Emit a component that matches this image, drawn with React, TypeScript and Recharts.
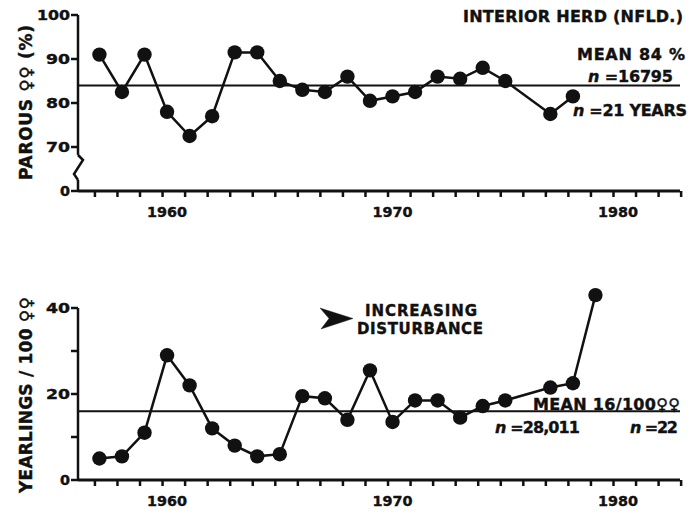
import { LineChart, Line, XAxis, YAxis, ReferenceLine, ReferenceDot } from "recharts";

const FONT = '"DejaVu Sans", "Liberation Sans", sans-serif';
const INK = "#111111";

// Top panel: parous females (%) — no sample in 1976
const parousYears = [
  1957, 1958, 1959, 1960, 1961, 1962, 1963, 1964, 1965, 1966, 1967,
  1968, 1969, 1970, 1971, 1972, 1973, 1974, 1975, 1977, 1978,
];
const parousPct = [
  91, 82.5, 91, 78, 72.5, 77, 91.5, 91.5, 85, 83, 82.5,
  86, 80.5, 81.5, 82.5, 86, 85.5, 88, 85, 77.5, 81.5,
];
const PAROUS_MEAN = 84;

// Bottom panel: yearlings per 100 females
const yearlingYears = [
  1957, 1958, 1959, 1960, 1961, 1962, 1963, 1964, 1965, 1966, 1967,
  1968, 1969, 1970, 1971, 1972, 1973, 1974, 1975, 1977, 1978, 1979,
];
const yearlingsPer100 = [
  5, 5.5, 11, 29, 22, 12, 8, 5.5, 6, 19.5, 19,
  14, 25.5, 13.5, 18.5, 18.5, 14.5, 17.2, 18.5, 21.5, 22.5, 43,
];
const YEARLING_MEAN = 16;

const yearTicks = [
  1957, 1958, 1959, 1960, 1961, 1962, 1963, 1964, 1965, 1966, 1967, 1968, 1969,
  1970, 1971, 1972, 1973, 1974, 1975, 1976, 1977, 1978, 1979, 1980, 1981, 1982, 1983,
];
const labelledYears = [1960, 1970, 1980];
const X_DOMAIN: [number, number] = [1956.05, 1982.75];

// the top axis is broken: 60 sits at the bottom and is labelled "0"
const parousTicks = [60, 70, 80, 90, 100];
const parousTickLabels: Record<number, string> = { 60: "0", 70: "70", 80: "80", 90: "90", 100: "100" };
const PAROUS_BREAK = { top: 68.2, mid: 65, bottom: 62.5 };

const yearlingTicks = [0, 10, 20, 30, 40];
const yearlingTickLabels: Record<number, string> = { 0: "0", 20: "20", 40: "40" };

const parousData = parousYears.map((year, i) => ({ year, pct: parousPct[i] }));
const yearlingData = yearlingYears.map((year, i) => ({ year, ratio: yearlingsPer100[i] }));

const textStyle = { fontFamily: FONT, fontWeight: 700, fill: INK, stroke: INK, strokeWidth: 0.4 } as const;

function YearLabel({ x, y, payload }: any) {
  const yr = payload.value;
  if (!labelledYears.includes(yr)) return <g />;
  return (
    <text
      x={x}
      y={y + 18}
      textAnchor="middle"
      fontSize={14}
      textLength={40}
      lengthAdjust="spacingAndGlyphs"
      {...textStyle}
    >
      {yr}
    </text>
  );
}

function makeValueLabel(labels: Record<number, string>) {
  return function ValueLabel({ x, y, payload }: any) {
    const lab = labels[payload.value];
    if (!lab) return <g />;
    const len = lab.length === 1 ? 10 : lab.length === 2 ? 24 : 33;
    return (
      <text
        x={x}
        y={y}
        dy={5}
        textAnchor="end"
        fontSize={14}
        textLength={len}
        lengthAdjust="spacingAndGlyphs"
        {...textStyle}
      >
        {lab}
      </text>
    );
  };
}

// short tick marks hung off reference lines; the printed x marks sit a little left of the years
function XTickMark({ x1, y1, y2 }: any) {
  const base = Math.max(y1, y2);
  return <line x1={x1 - 4.5} x2={x1 - 4.5} y1={base} y2={base + 6} stroke={INK} strokeWidth={2.5} />;
}

function YTickMark({ x1, x2, y1 }: any) {
  const left = Math.min(x1, x2);
  return <line x1={left - 7} x2={left} y1={y1} y2={y1} stroke={INK} strokeWidth={2.5} />;
}

function AxisBreak({ cx, cy }: any) {
  return (
    <path
      d={`M${cx},${cy - 14} L${cx + 5},${cy - 9} L${cx - 4},${cy + 5} L${cx},${cy + 11}`}
      fill="none"
      stroke={INK}
      strokeWidth={2.5}
    />
  );
}

const dotStyle = { r: 7.2, fill: INK, stroke: INK, strokeWidth: 0 };

export default function App() {
  return (
    <div style={{ position: "absolute", left: 0, top: 0, width: 699, height: 514, background: "#fff" }}>
      {/* titles and annotations, underneath the charts */}
      <svg width={699} height={514} style={{ position: "absolute", left: 0, top: 0 }}>
        <g {...textStyle} fontSize={16}>
          <text x={32} y={102.5} textAnchor="middle" transform="rotate(-90 32 102.5)" fontSize={17} textLength={155}>
            PAROUS ♀♀ (%)
          </text>
          <text x={32} y={395} textAnchor="middle" transform="rotate(-90 32 395)" fontSize={17} textLength={196}>
            YEARLINGS / 100 ♀♀
          </text>

          <text x={463} y={22} textLength={220}>INTERIOR HERD (NFLD.)</text>
          <text x={577} y={60} textLength={108}>MEAN 84 %</text>
          <text x={588} y={82} textLength={85}>
            <tspan fontStyle="italic">n</tspan> =16795
          </text>
          <text x={573} y={116} textLength={114}>
            <tspan fontStyle="italic">n</tspan> =21 YEARS
          </text>

          <path d="M320,308 L353,318.5 L321,329 L329,318.5 Z" fill={INK} />
          <text x={365} y={316} fontSize={15} textLength={112}>INCREASING</text>
          <text x={357} y={334} fontSize={15} textLength={126}>DISTURBANCE</text>

          <text x={533} y={410} textLength={147}>MEAN 16/100♀♀</text>
          <text x={495} y={433} textLength={85}>
            <tspan fontStyle="italic">n</tspan> =28,011
          </text>
          <text x={630} y={433} textLength={48}>
            <tspan fontStyle="italic">n</tspan> =22
          </text>
        </g>
      </svg>

      <LineChart width={699} height={240} data={parousData} margin={{ top: 15, right: 19, left: 0, bottom: 0 }}>
        <XAxis
          dataKey="year"
          type="number"
          domain={X_DOMAIN}
          ticks={yearTicks}
          interval={0}
          height={49}
          tickSize={6}
          tickMargin={2}
          tickLine={false}
          axisLine={{ stroke: INK, strokeWidth: 3 }}
          tick={<YearLabel />}
        />
        <YAxis
          type="number"
          domain={[60, 100]}
          ticks={parousTicks}
          interval={0}
          width={78}
          tickSize={7}
          tickMargin={1}
          tickLine={false}
          axisLine={false}
          tick={makeValueLabel(parousTickLabels)}
        />
        {yearTicks.map((yr) => (
          <ReferenceLine key={`xt${yr}`} x={yr} ifOverflow="visible" shape={XTickMark} />
        ))}
        {parousTicks.map((v) => (
          <ReferenceLine key={`yt${v}`} y={v} ifOverflow="visible" shape={YTickMark} />
        ))}
        <ReferenceLine
          ifOverflow="visible"
          segment={[{ x: X_DOMAIN[0], y: 100 }, { x: X_DOMAIN[0], y: PAROUS_BREAK.top }]}
          stroke={INK}
          strokeWidth={2.5}
        />
        <ReferenceLine
          ifOverflow="visible"
          segment={[{ x: X_DOMAIN[0], y: PAROUS_BREAK.bottom }, { x: X_DOMAIN[0], y: 60 }]}
          stroke={INK}
          strokeWidth={2.5}
        />
        <ReferenceDot x={X_DOMAIN[0]} y={PAROUS_BREAK.mid} ifOverflow="visible" shape={<AxisBreak />} />
        <ReferenceLine y={PAROUS_MEAN} stroke={INK} strokeWidth={2} />
        <Line
          type="linear"
          dataKey="pct"
          stroke={INK}
          strokeWidth={2.5}
          dot={dotStyle}
          activeDot={false}
          isAnimationActive={false}
        />
      </LineChart>

      <LineChart width={699} height={274} data={yearlingData} margin={{ top: 46.5, right: 19, left: 0, bottom: 0 }}>
        <XAxis
          dataKey="year"
          type="number"
          domain={X_DOMAIN}
          ticks={yearTicks}
          interval={0}
          height={34}
          tickSize={6}
          tickMargin={2}
          tickLine={false}
          axisLine={{ stroke: INK, strokeWidth: 3 }}
          tick={<YearLabel />}
        />
        <YAxis
          type="number"
          domain={[0, 45]}
          ticks={yearlingTicks}
          interval={0}
          width={78}
          tickSize={7}
          tickMargin={1}
          tickLine={false}
          axisLine={false}
          tick={makeValueLabel(yearlingTickLabels)}
        />
        {yearTicks.map((yr) => (
          <ReferenceLine key={`xt${yr}`} x={yr} ifOverflow="visible" shape={XTickMark} />
        ))}
        {yearlingTicks.map((v) => (
          <ReferenceLine key={`yt${v}`} y={v} ifOverflow="visible" shape={YTickMark} />
        ))}
        <ReferenceLine
          ifOverflow="visible"
          segment={[{ x: X_DOMAIN[0], y: 0 }, { x: X_DOMAIN[0], y: 40 }]}
          stroke={INK}
          strokeWidth={2.5}
        />
        <ReferenceLine y={YEARLING_MEAN} stroke={INK} strokeWidth={2} />
        <Line
          type="linear"
          dataKey="ratio"
          stroke={INK}
          strokeWidth={2.5}
          dot={dotStyle}
          activeDot={false}
          isAnimationActive={false}
        />
      </LineChart>
    </div>
  );
}
